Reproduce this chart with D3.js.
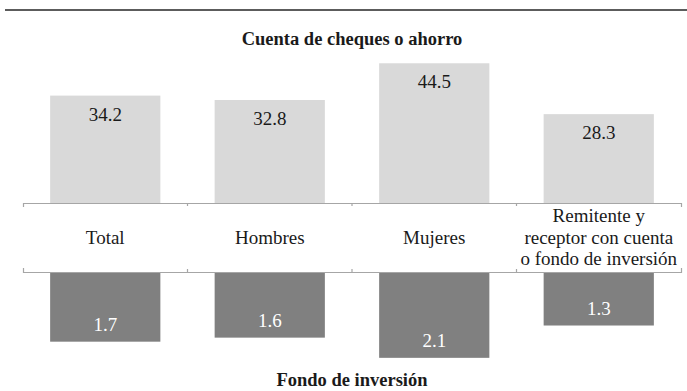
<!DOCTYPE html>
<html>
<head>
<meta charset="utf-8">
<script src="https://cdn.jsdelivr.net/npm/d3@7"></script>
<style>
  html, body { margin: 0; padding: 0; background: #fff; }
  svg { display: block; }
</style>
</head>
<body>
<script>
// Categories shown in the middle band (multi-line labels split on "\n")
const categories = ["Total", "Hombres", "Mujeres", "Remitente y\nreceptor con cuenta\no fondo de inversión"];
// Percent with a checking or savings account (upper bars)
const cuentaValues = [34.2, 32.8, 44.5, 28.3];
// Percent with an investment fund (lower bars, hanging down)
const fondoValues = [1.7, 1.6, 2.1, 1.3];
const topTitle = "Cuenta de cheques o ahorro";
const bottomTitle = "Fondo de inversión";

const FONT = "'Liberation Serif', 'Times New Roman', Tinos, 'DejaVu Serif', serif";
const W = 687, H = 391;
const svg = d3.select("body").append("svg").attr("width", W).attr("height", H)
  .attr("font-family", FONT).style("font-family", FONT);

const x = d3.scaleBand().domain(categories).range([23, 681]).padding(0);
const barW = x.bandwidth() * 0.67;
const bandTop = 203, bandBottom = 272;

const yUp = d3.scaleLinear().domain([0, 50]).range([bandTop, bandTop - 157]);
const yDown = d3.scaleLinear().domain([0, 2.5]).range([bandBottom + 1, bandBottom + 102]);

// top rule
svg.append("line").attr("x1", 5).attr("x2", W).attr("y1", 10).attr("y2", 10)
  .attr("stroke", "#262626").attr("stroke-width", 1.5);

// section titles
const cx = (x.range()[0] + x.range()[1]) / 2;
svg.append("text").attr("x", cx).attr("y", 45).attr("text-anchor", "middle")
  .attr("font-size", 18.5).attr("font-weight", "bold").attr("fill", "#1a1a1a").text(topTitle);
svg.append("text").attr("x", cx).attr("y", 386).attr("text-anchor", "middle")
  .attr("font-size", 18.5).attr("font-weight", "bold").attr("fill", "#1a1a1a").text(bottomTitle);

// upper bars
const up = svg.append("g");
up.selectAll("rect").data(categories).join("rect")
  .attr("x", d => x(d) + (x.bandwidth() - barW) / 2)
  .attr("width", barW)
  .attr("y", (d, i) => yUp(cuentaValues[i]))
  .attr("height", (d, i) => yUp(0) - yUp(cuentaValues[i]))
  .attr("fill", "#d9d9d9");
up.selectAll("text").data(categories).join("text")
  .attr("x", d => x(d) + x.bandwidth() / 2)
  .attr("y", (d, i) => yUp(cuentaValues[i]) + 25)
  .attr("text-anchor", "middle").attr("font-size", 19).attr("fill", "#1a1a1a")
  .text((d, i) => cuentaValues[i].toFixed(1));

// lower bars
const down = svg.append("g");
down.selectAll("rect").data(categories).join("rect")
  .attr("x", d => x(d) + (x.bandwidth() - barW) / 2)
  .attr("width", barW)
  .attr("y", yDown(0))
  .attr("height", (d, i) => yDown(fondoValues[i]) - yDown(0))
  .attr("fill", "#808080");
down.selectAll("text").data(categories).join("text")
  .attr("x", d => x(d) + x.bandwidth() / 2)
  .attr("y", (d, i) => yDown(fondoValues[i]) - 11)
  .attr("text-anchor", "middle").attr("font-size", 19).attr("fill", "#ffffff")
  .text((d, i) => fondoValues[i].toFixed(1));

// category band: top and bottom axis lines with inward end ticks
const gTop = svg.append("g").attr("transform", `translate(0,${bandTop})`)
  .call(d3.axisBottom(x).tickSize(4).tickFormat("").tickSizeOuter(4));
const gBot = svg.append("g").attr("transform", `translate(0,${bandBottom})`)
  .call(d3.axisTop(x).tickSize(4).tickFormat("").tickSizeOuter(4));
[gTop, gBot].forEach(g => {
  g.selectAll(".tick").remove();
  g.select(".domain").attr("stroke", "#a6a6a6").attr("stroke-width", 1.2);
});
// boundary ticks between categories
const bounds = categories.map(d => x(d)).slice(1);
svg.append("g").selectAll("line").data(bounds).join("line")
  .attr("x1", d => d).attr("x2", d => d).attr("y1", bandTop).attr("y2", bandTop + 3)
  .attr("stroke", "#a6a6a6").attr("stroke-width", 1.2);
svg.append("g").selectAll("line").data(bounds).join("line")
  .attr("x1", d => d).attr("x2", d => d).attr("y1", bandBottom).attr("y2", bandBottom - 3)
  .attr("stroke", "#a6a6a6").attr("stroke-width", 1.2);

// category labels, vertically centred in the band
const lineH = 21.5;
const lab = svg.append("g");
categories.forEach(c => {
  const lines = c.split("\n");
  const mid = (bandTop + bandBottom) / 2;
  const t = lab.append("text").attr("text-anchor", "middle").attr("font-size", 19).attr("fill", "#1a1a1a");
  lines.forEach((ln, j) => {
    t.append("tspan").attr("x", x(c) + x.bandwidth() / 2)
      .attr("y", mid + 6 + (j - (lines.length - 1) / 2) * lineH)
      .text(ln);
  });
});
</script>
</body>
</html>
